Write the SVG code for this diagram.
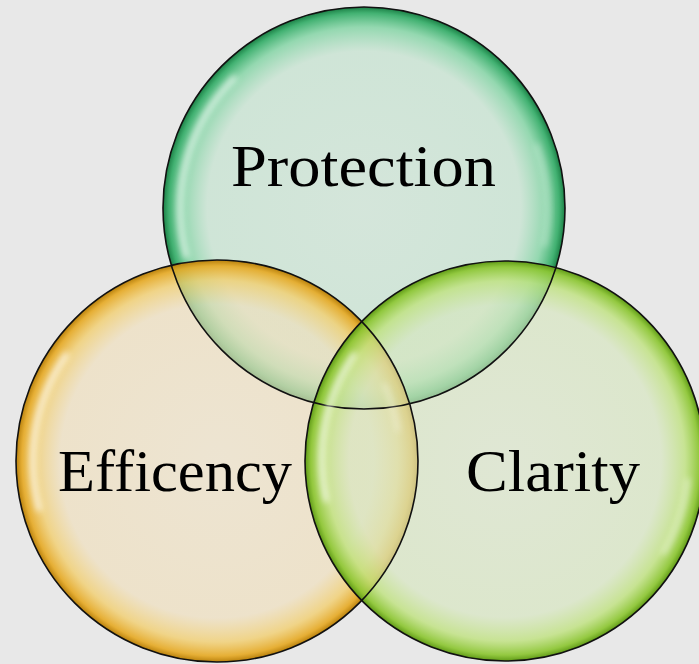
<svg xmlns="http://www.w3.org/2000/svg" width="699" height="664" viewBox="0 0 699 664">
<style>
.ring{fill:none;stroke:#111;stroke-width:1.6}
.hl{fill:none;stroke:#fff;stroke-linecap:round;filter:url(#blur)}
.lbl{font-family:"Liberation Serif","Times New Roman",serif;font-size:60px;fill:#000}
</style>
<defs>
<filter id="blur" x="-50%" y="-50%" width="200%" height="200%"><feGaussianBlur stdDeviation="3"/></filter>
<radialGradient id="gTop" cx="50%" cy="50%" r="50%">
<stop offset="0" stop-color="#c8e4d2" stop-opacity="0.62"/>
<stop offset="0.78" stop-color="#c2e3ce" stop-opacity="0.66"/>
<stop offset="0.9" stop-color="#7fd4a2" stop-opacity="0.8"/>
<stop offset="0.97" stop-color="#34ad68" stop-opacity="0.92"/>
<stop offset="1" stop-color="#1b7f45"/>
</radialGradient>
<radialGradient id="gLeft" cx="50%" cy="50%" r="50%">
<stop offset="0" stop-color="#f0e2c4" stop-opacity="0.62"/>
<stop offset="0.78" stop-color="#f0dfbb" stop-opacity="0.66"/>
<stop offset="0.9" stop-color="#f2cf70" stop-opacity="0.8"/>
<stop offset="0.97" stop-color="#e6aa26" stop-opacity="0.92"/>
<stop offset="1" stop-color="#b8800c"/>
</radialGradient>
<radialGradient id="gRight" cx="50%" cy="50%" r="50%">
<stop offset="0" stop-color="#dae6c8" stop-opacity="0.62"/>
<stop offset="0.78" stop-color="#d6e6be" stop-opacity="0.66"/>
<stop offset="0.9" stop-color="#bfe27e" stop-opacity="0.8"/>
<stop offset="0.97" stop-color="#8cc632" stop-opacity="0.92"/>
<stop offset="1" stop-color="#5f9a16"/>
</radialGradient>
</defs>
<rect width="699" height="664" fill="#e8e8e8"/>
<g id="protection">
<circle cx="364" cy="208" r="201" fill="url(#gTop)"/>
</g>
<g id="efficency">
<circle cx="217" cy="461" r="201" fill="url(#gLeft)"/>
</g>
<g id="clarity">
<circle cx="505" cy="461" r="200" fill="url(#gRight)"/>
</g>
<g id="outlines">
<circle class="ring" cx="364" cy="208" r="201"/>
<circle class="ring" cx="217" cy="461" r="201"/>
<circle class="ring" cx="505" cy="461" r="200"/>
<path class="hl" d="M186,256 A184,184 0 0 1 234,78" stroke-width="5" opacity="0.75"/>
<path class="hl" d="M545,245 A184,184 0 0 0 537,145" stroke-width="4" opacity="0.4"/>
<path class="hl" d="M39,509 A184,184 0 0 1 66,355" stroke-width="5" opacity="0.8"/>
<path class="hl" d="M398,430 A184,184 0 0 0 385,385" stroke-width="4" opacity="0.4"/>
<path class="hl" d="M326,500 A184,184 0 0 1 354,355" stroke-width="5" opacity="0.75"/>
<path class="hl" d="M688,480 A184,184 0 0 1 664,553" stroke-width="4" opacity="0.6"/>
</g>
<g id="labels">
<text class="lbl" x="231" y="186" textLength="265" lengthAdjust="spacingAndGlyphs">Protection</text>
<text class="lbl" x="58" y="491" textLength="234" lengthAdjust="spacingAndGlyphs">Efficency</text>
<text class="lbl" x="466" y="491" textLength="174" lengthAdjust="spacingAndGlyphs">Clarity</text>
</g>
<g id="connectors"/>
</svg>
